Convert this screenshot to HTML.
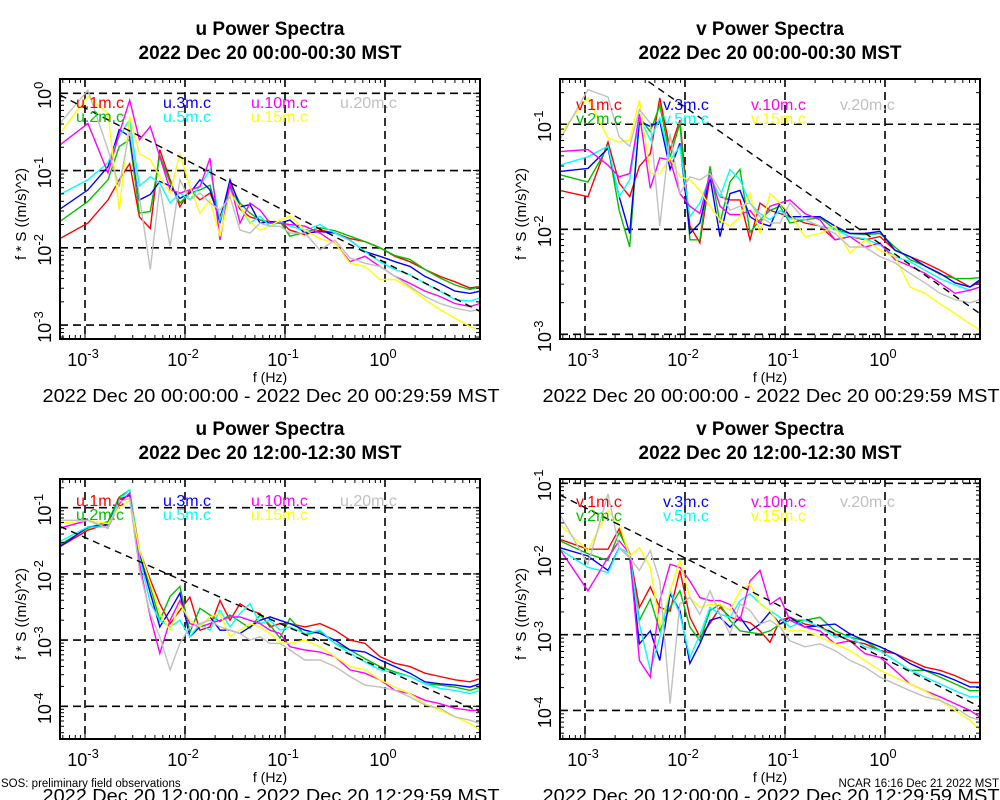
<!DOCTYPE html>
<html><head><meta charset="utf-8">
<style>
html,body{margin:0;padding:0;background:#fff;}
svg{display:block;font-family:"Liberation Sans",sans-serif;}
</style></head>
<body>
<svg id="chart" width="1000" height="800" viewBox="0 0 1000 800" xmlns="http://www.w3.org/2000/svg"></svg>
<script>
// Shared frequency grid (Hz)
const freqHz = [0.00056,0.00107,0.0017,0.0022,0.0028,0.0035,0.0045,0.0056,0.0071,0.0089,0.0112,0.0141,0.0178,0.0224,0.0282,0.0355,0.0447,0.0562,0.0708,0.0891,0.112,0.158,0.224,0.316,0.447,0.631,0.891,1.26,1.78,2.51,3.55,5.01,7.08,8.91];
const heightLabels = ["1m","2m","3m","5m","10m","15m","20m"];
const seriesColors = ["#ff0000","#00c000","#0000ff","#00ffff","#ff00ff","#ffff00","#c0c0c0"];
const xTickExps = [-3,-2,-1,0];

// Panel A: u, 00:00-00:30  (values are log10 of f*S)
const uA_1m = [-1.88,-1.68,-1.38,-1.12,-0.91,-1.6,-1.75,-0.73,-1.12,-1.47,-1.25,-1.38,-1.29,-1.6,-1.21,-1.5,-1.6,-1.64,-1.68,-1.66,-1.77,-1.83,-1.77,-1.81,-1.88,-1.92,-2.0,-2.11,-2.18,-2.28,-2.37,-2.44,-2.52,-2.5];
const uA_2m = [-1.66,-1.4,-1.12,-0.69,-0.6,-1.55,-1.53,-0.8,-1.16,-1.42,-1.29,-1.25,-1.19,-1.68,-1.16,-1.42,-1.55,-1.64,-1.66,-1.66,-1.85,-1.8,-1.74,-1.78,-1.85,-1.92,-2.0,-2.1,-2.15,-2.28,-2.39,-2.48,-2.54,-2.5];
const uA_3m = [-1.5,-1.25,-0.95,-0.47,-0.56,-1.38,-1.31,-1.14,-1.2,-1.36,-1.29,-1.12,-1.25,-1.66,-1.12,-1.47,-1.44,-1.68,-1.66,-1.68,-1.64,-1.81,-1.79,-1.81,-1.9,-2.05,-2.11,-2.18,-2.24,-2.37,-2.46,-2.56,-2.59,-2.56];
const uA_5m = [-1.31,-1.12,-0.9,-0.56,-0.34,-1.2,-1.08,-1.16,-1.42,-1.29,-1.38,-1.2,-0.99,-1.64,-1.25,-1.47,-1.68,-1.59,-1.72,-1.66,-1.72,-1.77,-1.7,-1.81,-1.9,-2.05,-2.18,-2.28,-2.35,-2.46,-2.56,-2.67,-2.69,-2.65];
const uA_10m = [-0.67,-0.39,-1.03,-0.52,-0.09,-0.6,-0.43,-0.82,-1.25,-1.29,-1.25,-1.21,-0.84,-1.9,-1.16,-1.68,-1.42,-1.51,-1.68,-1.68,-1.7,-1.72,-1.81,-1.94,-2.18,-2.11,-2.24,-2.37,-2.46,-2.56,-2.63,-2.72,-2.76,-2.72];
const uA_15m = [-0.52,-0.04,-0.26,-1.51,-0.3,-0.78,-0.86,-1.08,-1.29,-0.78,-1.21,-1.55,-1.38,-1.85,-1.29,-1.47,-1.66,-1.77,-1.72,-1.64,-1.59,-1.77,-1.88,-1.94,-2.2,-2.24,-2.41,-2.41,-2.52,-2.67,-2.8,-2.91,-3.02,-3.06];
const uA_20m = [-0.39,0.04,-0.73,-1.21,-0.47,-1.34,-2.28,-1.21,-1.98,-1.12,-1.38,-1.29,-1.42,-1.51,-1.34,-1.77,-1.81,-1.68,-1.72,-1.72,-1.81,-1.81,-2.03,-1.9,-2.13,-2.2,-2.24,-2.37,-2.5,-2.63,-2.72,-2.78,-2.82,-2.8];

// Panel B: v, 00:00-00:30
const vB_1m = [-1.63,-1.69,-1.17,-1.56,-1.69,-1.4,-1.28,-0.75,-1.24,-0.96,-1.97,-2.13,-1.5,-1.69,-1.72,-1.72,-2.1,-1.75,-1.82,-1.85,-1.88,-1.94,-1.97,-2.1,-2.07,-2.1,-2.07,-2.2,-2.26,-2.32,-2.39,-2.47,-2.55,-2.5];
const vB_2m = [-1.48,-1.55,-1.21,-1.82,-2.17,-0.93,-1.07,-0.82,-1.31,-0.99,-2.1,-2.1,-1.4,-1.94,-1.55,-1.43,-2.03,-1.91,-1.82,-1.78,-1.94,-1.91,-1.89,-2.0,-2.04,-2.05,-2.04,-2.17,-2.29,-2.35,-2.43,-2.47,-2.47,-2.46];
const vB_3m = [-1.45,-1.42,-1.23,-1.69,-2.04,-0.97,-1.02,-0.97,-1.43,-1.18,-2.04,-1.94,-1.5,-2.07,-1.66,-1.63,-1.88,-1.94,-1.97,-1.75,-1.88,-1.88,-1.88,-1.97,-2.04,-2.04,-2.02,-2.2,-2.26,-2.35,-2.42,-2.51,-2.55,-2.48];
const vB_5m = [-1.39,-1.31,-1.21,-1.69,-1.53,-0.93,-1.15,-0.94,-1.34,-1.21,-1.88,-1.75,-1.5,-1.69,-1.43,-1.53,-1.75,-1.85,-1.91,-1.82,-1.9,-1.91,-1.97,-2.0,-2.07,-2.09,-2.15,-2.26,-2.31,-2.39,-2.47,-2.53,-2.58,-2.55];
const vB_10m = [-1.26,-1.24,-1.39,-1.5,-1.47,-0.9,-1.61,-1.32,-1.34,-1.66,-1.78,-1.85,-1.47,-1.78,-1.86,-1.86,-1.82,-1.94,-1.78,-1.75,-1.72,-1.85,-1.91,-2.1,-2.07,-2.17,-2.13,-2.29,-2.35,-2.42,-2.51,-2.61,-2.58,-2.55];
const vB_15m = [-1.09,-0.75,-1.13,-1.17,-1.15,-0.77,-1.47,-1.47,-1.32,-1.5,-1.53,-1.63,-1.78,-1.91,-1.97,-1.88,-1.66,-2.04,-1.66,-1.75,-1.85,-2.07,-2.04,-1.97,-2.23,-2.1,-2.2,-2.26,-2.55,-2.61,-2.71,-2.8,-2.9,-2.96];
const vB_20m = [-1.15,-0.67,-0.74,-1.12,-1.21,-0.86,-0.99,-1.97,-1.09,-1.66,-1.5,-1.53,-1.47,-1.63,-1.82,-1.78,-1.75,-1.88,-1.94,-1.94,-1.75,-1.91,-1.97,-2.04,-2.17,-2.17,-2.26,-2.32,-2.42,-2.51,-2.61,-2.67,-2.7,-2.67];

// Panel C: u, 12:00-12:30
const uC_1m = [-1.59,-1.34,-1.24,-0.93,-0.78,-1.64,-2.09,-2.45,-2.75,-2.55,-2.35,-2.85,-2.8,-2.4,-2.7,-2.45,-2.55,-2.6,-2.8,-2.75,-2.75,-2.8,-2.75,-2.85,-3.0,-3.05,-3.25,-3.35,-3.4,-3.5,-3.55,-3.6,-3.63,-3.58];
const uC_2m = [-1.56,-1.31,-1.21,-0.84,-0.73,-1.69,-2.19,-2.7,-2.34,-2.19,-2.88,-2.52,-2.62,-2.72,-2.62,-2.72,-2.82,-2.62,-2.77,-2.97,-2.67,-2.92,-2.87,-3.05,-3.15,-3.28,-3.4,-3.48,-3.55,-3.66,-3.68,-3.71,-3.76,-3.71];
const uC_3m = [-1.59,-1.29,-1.26,-0.88,-0.81,-1.69,-2.29,-2.8,-2.55,-2.29,-2.95,-2.8,-2.65,-2.85,-2.85,-2.9,-2.8,-2.7,-2.65,-2.7,-2.75,-2.85,-2.9,-3.0,-3.15,-3.18,-3.3,-3.4,-3.5,-3.63,-3.66,-3.68,-3.71,-3.66];
const uC_5m = [-1.51,-1.29,-1.29,-0.88,-0.73,-1.74,-2.44,-2.7,-2.8,-2.7,-2.95,-2.75,-2.85,-2.55,-2.8,-2.6,-2.45,-2.75,-2.7,-2.85,-2.8,-2.9,-2.85,-3.05,-3.2,-3.33,-3.45,-3.5,-3.55,-3.66,-3.73,-3.76,-3.81,-3.76];
const uC_10m = [-1.31,-1.19,-1.31,-0.94,-0.78,-1.84,-2.65,-3.2,-2.7,-2.4,-2.75,-2.8,-2.75,-2.7,-2.65,-2.65,-2.7,-2.75,-2.85,-2.9,-3.1,-3.15,-3.18,-3.25,-3.45,-3.5,-3.6,-3.76,-3.81,-3.91,-3.96,-4.03,-4.06,-4.06];
const uC_15m = [-1.24,-1.19,-1.24,-0.99,-0.89,-1.64,-2.14,-2.6,-2.85,-2.45,-2.7,-2.8,-2.65,-2.6,-2.95,-2.85,-2.75,-2.8,-2.9,-3.03,-3.05,-3.0,-3.1,-3.25,-3.4,-3.45,-3.6,-3.71,-3.81,-3.96,-4.06,-4.16,-4.26,-4.36];
const uC_20m = [-1.19,-1.19,-1.31,-0.91,-0.86,-1.94,-2.6,-2.95,-3.45,-3.05,-2.8,-2.75,-2.7,-2.8,-2.85,-2.9,-3.0,-2.95,-3.05,-3.05,-3.15,-3.3,-3.3,-3.4,-3.55,-3.68,-3.71,-3.76,-3.86,-3.98,-4.03,-4.16,-4.21,-4.26];

// Panel D: v, 12:00-12:30
const vD_1m = [-1.74,-1.87,-1.87,-1.6,-1.93,-2.64,-2.37,-2.64,-2.69,-2.15,-2.77,-3.03,-2.85,-2.64,-2.77,-2.81,-2.84,-2.95,-3.1,-2.81,-2.77,-2.86,-2.9,-2.99,-3.08,-3.12,-3.21,-3.25,-3.34,-3.43,-3.47,-3.54,-3.63,-3.63];
const vD_2m = [-1.76,-1.93,-2.02,-1.65,-1.93,-2.81,-2.53,-2.95,-2.64,-2.42,-2.9,-3.08,-2.68,-2.6,-2.81,-2.95,-2.97,-2.99,-2.95,-2.86,-2.81,-2.81,-2.77,-2.95,-3.03,-3.08,-3.21,-3.34,-3.47,-3.47,-3.56,-3.65,-3.74,-3.74];
const vD_3m = [-1.85,-1.96,-2.15,-1.85,-1.98,-3.12,-2.95,-3.34,-2.46,-2.68,-3.38,-3.12,-2.81,-2.77,-2.9,-2.77,-2.95,-2.86,-2.7,-2.86,-2.77,-2.9,-2.88,-2.86,-2.99,-3.08,-3.16,-3.25,-3.38,-3.47,-3.52,-3.6,-3.69,-3.69];
const vD_5m = [-1.87,-2.11,-2.18,-1.85,-1.93,-2.86,-3.47,-3.03,-2.42,-2.73,-3.3,-3.0,-2.64,-2.73,-2.77,-2.55,-2.46,-2.59,-2.68,-2.77,-2.9,-2.81,-2.9,-3.03,-3.03,-3.16,-3.21,-3.34,-3.47,-3.56,-3.65,-3.74,-3.82,-3.82];
const vD_10m = [-1.87,-2.42,-1.98,-1.76,-1.93,-3.34,-3.56,-2.55,-2.07,-2.11,-2.29,-2.51,-2.55,-2.55,-2.6,-2.81,-2.29,-2.15,-2.6,-2.51,-2.81,-2.9,-2.95,-3.12,-3.08,-3.25,-3.3,-3.47,-3.65,-3.74,-3.82,-3.91,-4.0,-4.09];
const vD_15m = [-1.54,-1.89,-1.36,-1.54,-1.96,-1.85,-2.11,-2.9,-2.42,-2.02,-2.51,-2.64,-2.6,-2.6,-2.68,-2.42,-2.33,-2.6,-2.68,-2.9,-2.95,-2.95,-3.03,-3.12,-3.21,-3.34,-3.47,-3.56,-3.65,-3.74,-3.87,-4.0,-4.13,-4.26];
const vD_20m = [-1.41,-2.07,-1.14,-1.85,-1.98,-2.15,-1.89,-2.29,-3.91,-2.59,-2.51,-2.73,-2.42,-2.73,-2.99,-2.59,-2.68,-2.86,-2.81,-2.9,-3.08,-3.16,-3.12,-3.21,-3.34,-3.43,-3.56,-3.65,-3.74,-3.82,-3.87,-3.96,-4.09,-4.13];

// y-axis decade labels and log ranges
const yTicksA = [0,-1,-2,-3];
const yTicksB = [-1,-2,-3];
const yTicksC = [-1,-2,-3,-4];
const yTicksD = [-1,-2,-3,-4];
const yRangeA = [-3.18,0.185];
const yRangeB = [-3.045,-0.569];
const yRangeC = [-4.494,-0.566];
const yRangeD = [-4.378,-0.943];
// reference slope -2/3 line intercepts (log10 at 1 Hz)
const refIntercepts = [-2.19,-2.17,-3.45,-3.32];
const xRange = [-3.25,0.95];

const NS = "http://www.w3.org/2000/svg";
const svg = document.getElementById('chart');
function mk(tag, attrs, parent){
  const e = document.createElementNS(NS, tag);
  for (const k in attrs) e.setAttribute(k, attrs[k]);
  (parent||svg).appendChild(e);
  return e;
}

const panels = [
  {comp:"u", x0:60, y0:79, title2:"2022 Dec 20 00:00-00:30 MST", range:"2022 Dec 20 00:00:00 - 2022 Dec 20 00:29:59 MST",
   yr:yRangeA, ticks:yTicksA, ref:refIntercepts[0], data:[uA_1m,uA_2m,uA_3m,uA_5m,uA_10m,uA_15m,uA_20m], name:"u-morning", legDy:29},
  {comp:"v", x0:560, y0:79, title2:"2022 Dec 20 00:00-00:30 MST", range:"2022 Dec 20 00:00:00 - 2022 Dec 20 00:29:59 MST",
   yr:yRangeB, ticks:yTicksB, ref:refIntercepts[1], data:[vB_1m,vB_2m,vB_3m,vB_5m,vB_10m,vB_15m,vB_20m], name:"v-morning", legDy:31},
  {comp:"u", x0:60, y0:479, title2:"2022 Dec 20 12:00-12:30 MST", range:"2022 Dec 20 12:00:00 - 2022 Dec 20 12:29:59 MST",
   yr:yRangeC, ticks:yTicksC, ref:refIntercepts[2], data:[uC_1m,uC_2m,uC_3m,uC_5m,uC_10m,uC_15m,uC_20m], name:"u-noon", legDy:27},
  {comp:"v", x0:560, y0:479, title2:"2022 Dec 20 12:00-12:30 MST", range:"2022 Dec 20 12:00:00 - 2022 Dec 20 12:29:59 MST",
   yr:yRangeD, ticks:yTicksD, ref:refIntercepts[3], data:[vD_1m,vD_2m,vD_3m,vD_5m,vD_10m,vD_15m,vD_20m], name:"v-noon", legDy:28}
];
const W = 420, H = 260;

panels.forEach(p => {
  const g = mk('g', {});
  
  
  const xs = lf => p.x0 + (lf - xRange[0]) / (xRange[1]-xRange[0]) * W;
  const ys = ly => p.y0 + (p.yr[1] - ly) / (p.yr[1]-p.yr[0]) * H;
  const cx = p.x0 + W/2;

  const t1 = mk('text', {x:cx, y:p.y0-44, 'text-anchor':'middle', 'font-size':19, 'font-weight':'bold'}, g);
  t1.textContent = p.comp + " Power Spectra";
  
  
  const t2 = mk('text', {x:cx, y:p.y0-20, 'text-anchor':'middle', 'font-size':19, 'font-weight':'bold'}, g);
  t2.textContent = p.title2;
  
  

  const cid = 'clip-' + p.name;
  const cp = mk('clipPath', {id:cid}, g);
  mk('rect', {x:p.x0, y:p.y0, width:W, height:H}, cp);

  xTickExps.forEach(e => {
    const gl = mk('line', {x1:xs(e), x2:xs(e), y1:p.y0, y2:p.y0+H, stroke:'#000', 'stroke-width':1.6, 'stroke-dasharray':'8,5'}, g);
    
    
  });
  p.ticks.forEach(e => {
    const gl = mk('line', {x1:p.x0, x2:p.x0+W, y1:ys(e), y2:ys(e), stroke:'#000', 'stroke-width':1.6, 'stroke-dasharray':'8,5'}, g);
    
    
  });

  const cg = mk('g', {'clip-path':'url(#'+cid+')'}, g);
  p.data.forEach((arr, si) => {
    const d = arr.map((v,i) => (i?'L':'M') + xs(Math.log10(freqHz[i])).toFixed(1) + ',' + ys(v).toFixed(1)).join(' ');
    const pl = mk('path', {d:d, fill:'none', stroke:seriesColors[si], 'stroke-width':1.4, 'stroke-linejoin':'miter'}, cg);
    
    
  });

  const rl = mk('line', {x1:xs(xRange[0]), y1:ys(p.ref - 2/3*xRange[0]), x2:xs(xRange[1]), y2:ys(p.ref - 2/3*xRange[1]), stroke:'#000', 'stroke-width':1.4, 'stroke-dasharray':'7,5'}, cg);
  
  

  const lx = [p.x0+16, p.x0+103, p.x0+191, p.x0+280];
  const legCol = [0,0,1,1,2,2,3];
  const legRow = [0,1,0,1,0,1,0];
  heightLabels.forEach((h, si) => {
    const lt = mk('text', {x:lx[legCol[si]], y:p.y0+p.legDy+legRow[si]*14, 'font-size':16, fill:seriesColors[si]}, g);
    lt.textContent = p.comp + '.' + h + '.c';
    
    
  });

  const fr = mk('rect', {x:p.x0, y:p.y0, width:W, height:H, fill:'none', stroke:'#000', 'stroke-width':2}, g);
  
  

  for (let e = -4; e <= 1; e++) {
    for (let m = 1; m <= 9; m++) {
      const lf = e + Math.log10(m);
      if (lf < xRange[0] || lf > xRange[1]) continue;
      const len = m===1 ? 7 : 4;
      mk('line', {x1:xs(lf), x2:xs(lf), y1:p.y0+H, y2:p.y0+H-len, stroke:'#000', 'stroke-width':1}, g);
      mk('line', {x1:xs(lf), x2:xs(lf), y1:p.y0, y2:p.y0+len, stroke:'#000', 'stroke-width':1}, g);
    }
  }
  for (let e = -5; e <= 1; e++) {
    for (let m = 1; m <= 9; m++) {
      const lf = e + Math.log10(m);
      if (lf < p.yr[0] || lf > p.yr[1]) continue;
      const len = m===1 ? 7 : 4;
      mk('line', {x1:p.x0, x2:p.x0+len, y1:ys(lf), y2:ys(lf), stroke:'#000', 'stroke-width':1}, g);
      mk('line', {x1:p.x0+W, x2:p.x0+W-len, y1:ys(lf), y2:ys(lf), stroke:'#000', 'stroke-width':1}, g);
    }
  }

  xTickExps.forEach(e => {
    const tx = mk('text', {x:xs(e)-2, y:p.y0+H+27, 'text-anchor':'middle', 'font-size':18}, g);
    
    
    const b = mk('tspan', {}, tx); b.textContent = '10';
    const s = mk('tspan', {dy:-8, 'font-size':13}, tx); s.textContent = String(e);
  });
  p.ticks.forEach(e => {
    const ty = mk('text', {x:0, y:0, 'text-anchor':'middle', 'font-size':18, transform:'translate('+(p.x0-9)+','+(ys(e)+2)+') rotate(-90)'}, g);
    
    
    const b = mk('tspan', {}, ty); b.textContent = '10';
    const s = mk('tspan', {dy:-8, 'font-size':13}, ty); s.textContent = String(e);
  });

  const xt = mk('text', {x:cx, y:p.y0+H+43, 'text-anchor':'middle', 'font-size':14}, g);
  xt.textContent = 'f (Hz)';
  
  
  const yt = mk('text', {x:0, y:0, 'text-anchor':'middle', 'font-size':15, transform:'translate('+(p.x0-34)+','+(p.y0+H/2+5)+') rotate(-90)'}, g);
  yt.textContent = 'f * S ((m/s)^2)';
  
  

  const tr = mk('text', {x:cx+1, y:p.y0+H+63, 'text-anchor':'middle', 'font-size':18, textLength:457, lengthAdjust:'spacingAndGlyphs'}, g);
  tr.textContent = p.range;
  
  
});

const f1 = mk('text', {x:1, y:787, 'font-size':11.5});
f1.textContent = 'SOS: preliminary field observations';


const f2 = mk('text', {x:999, y:787, 'font-size':11.5, 'text-anchor':'end'});
f2.textContent = 'NCAR 16:16 Dec 21 2022 MST';


</script>
</body></html>
